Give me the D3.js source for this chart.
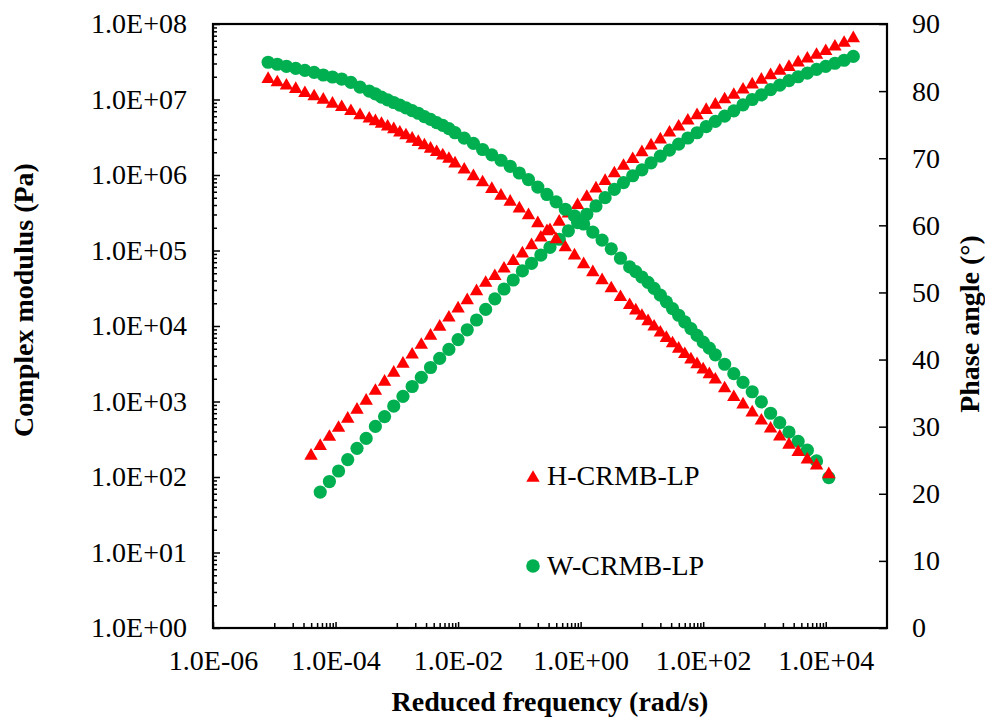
<!DOCTYPE html>
<html>
<head>
<meta charset="utf-8">
<script src="https://cdn.jsdelivr.net/npm/d3@7"></script>
<style>
  body { margin: 0; background: #fff; }
  text { font-family: "Liberation Serif", "Times New Roman", serif; }
</style>
</head>
<body>
<div id="plot"></div>
<script>
// reduced frequency (rad/s) of the phase angle points
var phaseFreq = [7.94e-6, 1.12e-5, 1.58e-5, 2.24e-5, 3.16e-5, 4.47e-5, 6.31e-5, 8.91e-5, 1.26e-4, 1.78e-4,
    2.51e-4, 3.55e-4, 4.47e-4, 5.62e-4, 7.08e-4, 8.91e-4, 1.12e-3, 1.41e-3, 1.78e-3, 2.24e-3,
    2.82e-3, 3.55e-3, 4.47e-3, 5.62e-3, 7.08e-3, 8.91e-3, 1.26e-2, 1.78e-2, 2.51e-2, 3.55e-2,
    5.01e-2, 7.08e-2, 0.100, 0.141, 0.200, 0.282, 0.398, 0.562, 0.794, 1.12,
    1.58, 2.24, 3.16, 4.47, 6.31, 7.94, 10.0, 12.6, 15.8, 20.0,
    25.1, 31.6, 39.8, 50.1, 63.1, 79.4, 100, 126, 158, 224,
    316, 447, 631, 891, 1259, 1778, 2512, 3548, 5012, 7079, 11220];

var phaseH = [81.8, 81.3, 80.8, 80.3, 79.7, 79.2, 78.7, 78.1, 77.6, 77.0,
    76.4, 75.9, 75.5, 75.1, 74.7, 74.3, 73.8, 73.4, 72.9, 72.4,
    71.9, 71.4, 70.9, 70.4, 69.9, 69.2, 68.3, 67.3, 66.4, 65.4,
    64.4, 63.5, 62.5, 61.5, 60.3, 59.1, 57.9, 56.7, 55.5, 54.2,
    53.0, 51.8, 50.6, 49.3, 48.1, 47.3, 46.5, 45.7, 44.9, 44.0,
    43.2, 42.4, 41.6, 40.8, 40.0, 39.3, 38.5, 37.8, 37.0, 35.7,
    34.4, 33.3, 32.1, 30.9, 29.7, 28.5, 27.3, 26.2, 25.1, 24.2, 22.9];

var phaseW = [84.3, 84.0, 83.7, 83.4, 83.1, 82.8, 82.4, 82.1, 81.8, 81.3,
    80.6, 80.0, 79.6, 79.1, 78.7, 78.3, 77.9, 77.5, 77.1, 76.7,
    76.2, 75.8, 75.3, 74.9, 74.4, 73.8, 73.0, 72.2, 71.3, 70.5,
    69.7, 68.8, 67.8, 66.8, 65.7, 64.6, 63.5, 62.4, 61.4, 60.2,
    59.0, 57.8, 56.5, 55.1, 53.8, 53.1, 52.3, 51.5, 50.6, 49.6,
    48.6, 47.6, 46.6, 45.6, 44.6, 43.6, 42.6, 41.7, 40.7, 39.3,
    37.9, 36.6, 35.2, 33.7, 32.0, 30.6, 29.2, 27.8, 26.5, 24.9, 22.4];

// reduced frequency (rad/s) of the complex modulus points
var modFreq = [3.98e-5, 5.62e-5, 7.94e-5, 1.12e-4, 1.58e-4, 2.24e-4, 3.16e-4, 4.47e-4, 6.31e-4, 8.91e-4,
    1.26e-3, 1.78e-3, 2.51e-3, 3.55e-3, 5.01e-3, 7.08e-3, 1.00e-2, 1.41e-2, 2.00e-2, 2.82e-2,
    3.98e-2, 5.62e-2, 7.94e-2, 0.112, 0.158, 0.224, 0.316, 0.447, 0.631, 0.891,
    1.26, 1.78, 2.51, 3.55, 5.01, 7.08, 10.0, 14.1, 20.0, 28.2,
    39.8, 56.2, 79.4, 112, 158, 224, 316, 447, 631, 891,
    1259, 1778, 2512, 3548, 5012, 7079, 10000, 14125, 19953, 28184];

var modulusH = [191, 257, 339, 447, 589, 776, 1020, 1380, 1820, 2400,
    3160, 4170, 5620, 7410, 9770, 12900, 17000, 21900, 28800, 37200,
    45700, 57500, 72400, 91200, 117000, 148000, 186000, 240000, 309000, 398000,
    513000, 661000, 832000, 1.05e6, 1.32e6, 1.62e6, 2.00e6, 2.45e6, 2.95e6, 3.63e6,
    4.37e6, 5.25e6, 6.17e6, 7.24e6, 8.51e6, 1.00e7, 1.15e7, 1.35e7, 1.58e7, 1.82e7,
    2.09e7, 2.40e7, 2.69e7, 3.09e7, 3.47e7, 3.89e7, 4.37e7, 5.01e7, 5.62e7, 6.46e7];

var modulusW = [null, 63.1, 87.1, 120, 170, 240, 324, 468, 631, 871,
    1170, 1580, 2090, 2820, 3720, 4900, 6610, 8910, 12000, 16600,
    22900, 30900, 40700, 53700, 67600, 87100, 110000, 141000, 182000, 234000,
    302000, 389000, 501000, 646000, 794000, 977000, 1.17e6, 1.45e6, 1.78e6, 2.14e6,
    2.57e6, 3.09e6, 3.63e6, 4.37e6, 5.13e6, 6.03e6, 7.08e6, 8.51e6, 1.00e7, 1.15e7,
    1.35e7, 1.55e7, 1.78e7, 2.00e7, 2.24e7, 2.51e7, 2.75e7, 3.02e7, 3.31e7, 3.72e7];

var xTicks = [1e-6, 1e-4, 1e-2, 1e0, 1e2, 1e4];
var yTicks = [1e0, 1e1, 1e2, 1e3, 1e4, 1e5, 1e6, 1e7, 1e8];
var phaseTicks = [0, 10, 20, 30, 40, 50, 60, 70, 80, 90];
var seriesNames = ["H-CRMB-LP", "W-CRMB-LP"];

var w = 985, h = 720;
var m = { l: 213, r: 887, t: 24, b: 628 };
var red = "#ff0000", green = "#00b050";

var svg = d3.select("#plot")
    .append("svg")
    .attr("width", w)
    .attr("height", h)
    .style("display", "block");

var xScale = d3.scaleLog().domain([1e-6, 1e5]).range([m.l, m.r]);
var yScale = d3.scaleLog().domain([1, 1e8]).range([m.b, m.t]);
var pScale = d3.scaleLinear().domain([0, 90]).range([m.b, m.t]);

function sci(v) {
    var e = Math.round(Math.log10(v));
    return "1.0E" + (e < 0 ? "-" : "+") + String(Math.abs(e)).padStart(2, "0");
}

// minor ticks: 2..9 per decade on y, 1..9 x 10^odd on x (base-100 axis)
var yMinor = [];
yTicks.slice(0, -1).forEach(function (d) {
    for (var k = 2; k <= 9; k++) yMinor.push(d * k);
});
var xMinor = [];
xTicks.forEach(function (d) {
    for (var k = 1; k <= 9; k++) xMinor.push(d * 10 * k);
});
xMinor = xMinor.filter(function (d) { return d < 1e5; });

function styleAxis(g, size) {
    g.select(".domain").remove();
    g.selectAll("line").attr("stroke", "#000").attr("stroke-width", 1.5);
    g.selectAll("text").attr("font-size", size).attr("fill", "#000");
}

svg.append("g")
    .attr("transform", "translate(" + m.l + ",0)")
    .call(d3.axisLeft(yScale).tickValues(yMinor).tickSize(-4).tickFormat(""))
    .call(styleAxis, 28);
svg.append("g")
    .attr("transform", "translate(" + m.l + ",0)")
    .call(d3.axisLeft(yScale).tickValues(yTicks).tickSize(-7).tickPadding(26).tickFormat(sci))
    .call(styleAxis, 28);

svg.append("g")
    .attr("transform", "translate(0," + m.b + ")")
    .call(d3.axisBottom(xScale).tickValues(xMinor).tickSize(-5).tickFormat(""))
    .call(styleAxis, 28);
svg.append("g")
    .attr("transform", "translate(0," + m.b + ")")
    .call(d3.axisBottom(xScale).tickValues(xTicks).tickSize(-6).tickPadding(22).tickFormat(sci))
    .call(styleAxis, 28);

svg.append("g")
    .attr("transform", "translate(" + m.r + ",0)")
    .call(d3.axisRight(pScale).tickValues(phaseTicks).tickSize(-8).tickPadding(25))
    .call(styleAxis, 28);

svg.append("rect")
    .attr("x", m.l).attr("y", m.t)
    .attr("width", m.r - m.l).attr("height", m.b - m.t)
    .attr("fill", "none").attr("stroke", "#000").attr("stroke-width", 2.2);

var tri = d3.symbol().type(d3.symbolTriangle).size(78);

function pts(fx, fy) {
    return fx.map(function (f, i) { return { f: f, v: fy[i] }; })
        .filter(function (d) { return d.v != null; });
}

svg.append("g").selectAll("path")
    .data(pts(modFreq, modulusH))
    .enter().append("path")
    .attr("d", tri)
    .attr("transform", function (d) { return "translate(" + xScale(d.f) + "," + yScale(d.v) + ")"; })
    .attr("fill", red);

svg.append("g").selectAll("circle")
    .data(pts(modFreq, modulusW))
    .enter().append("circle")
    .attr("cx", function (d) { return xScale(d.f); })
    .attr("cy", function (d) { return yScale(d.v); })
    .attr("r", 6.6)
    .attr("fill", green);

svg.append("g").selectAll("circle")
    .data(pts(phaseFreq, phaseW))
    .enter().append("circle")
    .attr("cx", function (d) { return xScale(d.f); })
    .attr("cy", function (d) { return pScale(d.v); })
    .attr("r", 6.6)
    .attr("fill", green);

svg.append("g").selectAll("path")
    .data(pts(phaseFreq, phaseH))
    .enter().append("path")
    .attr("d", tri)
    .attr("transform", function (d) { return "translate(" + xScale(d.f) + "," + pScale(d.v) + ")"; })
    .attr("fill", red);

// axis titles
svg.append("text")
    .attr("x", (m.l + m.r) / 2).attr("y", 711)
    .attr("text-anchor", "middle")
    .attr("font-size", 28).attr("font-weight", "bold")
    .text("Reduced frequency (rad/s)");
svg.append("text")
    .attr("transform", "translate(33,300) rotate(-90)")
    .attr("text-anchor", "middle")
    .attr("font-size", 28).attr("font-weight", "bold")
    .text("Complex modulus (Pa)");
svg.append("text")
    .attr("transform", "translate(979,324) rotate(-90)")
    .attr("text-anchor", "middle")
    .attr("font-size", 28).attr("font-weight", "bold")
    .text("Phase angle (°)");

// legend
var leg = svg.append("g");
leg.append("path")
    .attr("d", tri)
    .attr("transform", "translate(533,478)")
    .attr("fill", red);
leg.append("circle")
    .attr("cx", 533).attr("cy", 566).attr("r", 6.8)
    .attr("fill", green);
leg.selectAll("text")
    .data(seriesNames)
    .enter().append("text")
    .attr("x", 547)
    .attr("y", function (d, i) { return i === 0 ? 485 : 575; })
    .attr("font-size", 28)
    .text(function (d) { return d; });
</script>
</body>
</html>
